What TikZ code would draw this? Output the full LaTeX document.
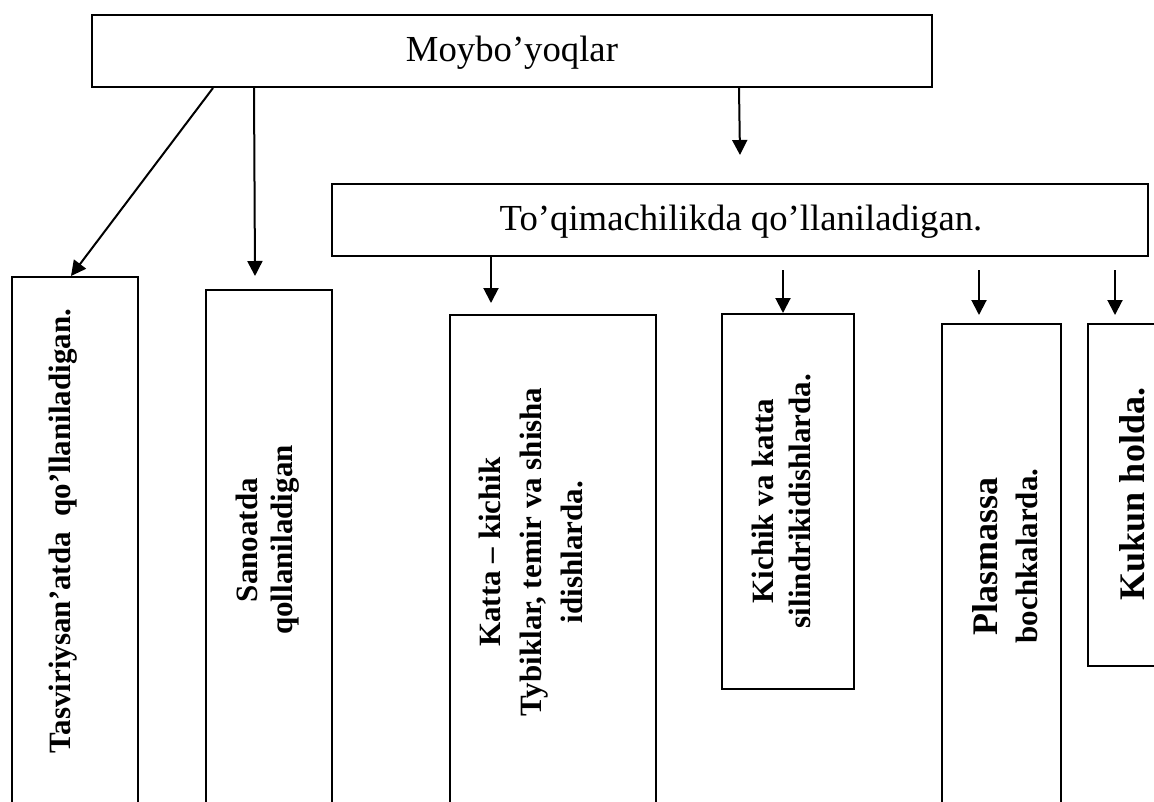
\documentclass[tikz,border=0pt]{standalone}
\usepackage{fontspec}
\setmainfont{Liberation Serif}
\usetikzlibrary{arrows.meta}
\begin{document}
\begin{tikzpicture}[x=1pt,y=-1pt,
  box/.style={draw, line width=2pt, rectangle, inner sep=0pt},
  arr/.style={line width=2pt, -{Triangle[length=15pt,width=15pt]}},
  vtext/.style={rotate=90, inner sep=0pt, align=center, font=\bfseries\fontsize{31}{35}\selectfont},
  htext/.style={inner sep=0pt, anchor=base, font=\fontsize{36.7}{40}\selectfont}]
\useasboundingbox (0,0) rectangle (1154,801);
\clip (0,0) rectangle (1154,801);
% top level
\node[box, minimum width=840pt, minimum height=72pt] (top) at (512,51) {};
\node[htext] (toptext) at (512,61) {Moybo’yoqlar};
\node[box, minimum width=816pt, minimum height=72pt] (mid) at (740,220) {};
\node[htext] (midtext) at (741,230) {To’qimachilikda qo’llaniladigan.};
% vertical boxes
\node[box, minimum width=126pt, minimum height=573pt] (b1) at (75,563.5) {};
\node[box, minimum width=126pt, minimum height=560pt] (b2) at (269,570) {};
\node[box, minimum width=206pt, minimum height=535pt] (b3) at (553,582.5) {};
\node[box, minimum width=132pt, minimum height=375pt] (b4) at (788,501.5) {};
\node[box, minimum width=119pt, minimum height=526pt] (b5) at (1001.5,587) {};
\node[box, minimum width=112pt, minimum height=342pt] (b6) at (1144,495) {};
% texts
\node[vtext] (t1) at (63,531) {Tasviriysan’atda~ qo’llaniladigan.};
\node[vtext] (t2) at (268,540) {Sanoatda\\qollaniladigan};
\node[vtext, font=\bfseries\fontsize{31}{41}\selectfont] (t3) at (531,552) {Katta – kichik\\Tybiklar, temir va shisha\\idishlarda.};
\node[vtext, font=\bfseries\fontsize{31}{37}\selectfont] (t4) at (781,501) {Kichik va katta\\silindrikidishlarda.};
\node[vtext, font=\bfseries\fontsize{31}{40}\selectfont] (t5) at (1005,556) {{\fontsize{36}{40}\selectfont Plasmassa}\\bochkalarda.};
\node[vtext, font=\bfseries\fontsize{36}{40}\selectfont] (t6) at (1132,494) {Kukun holda.};
% arrows
\draw[arr] ([xshift=122pt]top.south west) -- ([xshift=60pt]b1.north west);
\draw[arr] ([xshift=163pt]top.south west) -- ([xshift=-14pt,yshift=13pt]b2.north);
\draw[arr] ([xshift=648pt]top.south west) -- ([yshift=28pt]mid.north);
\draw[arr] ([xshift=160pt]mid.south west) -- ([xshift=42pt,yshift=11pt]b3.north west);
\draw[arr] ([xshift=452pt,yshift=-13pt]mid.south west) -- ([xshift=62pt]b4.north west);
\draw[arr] ([xshift=648pt,yshift=-13pt]mid.south west) -- ([xshift=38pt,yshift=8pt]b5.north west);
\draw[arr] ([xshift=784pt,yshift=-13pt]mid.south west) -- ([xshift=28pt,yshift=8pt]b6.north west);
\end{tikzpicture}
\end{document}
